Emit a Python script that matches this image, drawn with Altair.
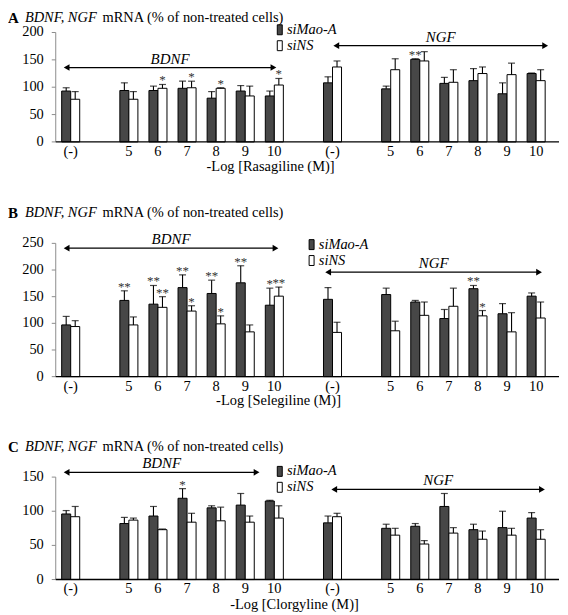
import altair as alt
import pandas as pd

# ---------------- data ----------------
concs = ["(-)", "5", "6", "7", "8", "9", "10"]
genes = ["BDNF", "NGF"]
series = ["siMao-A", "siNS"]

title_gene = "BDNF, NGF"
title_rest = "mRNA (% of non-treated cells)"

# Panel A: Rasagiline
a_letter = "A"
a_xtitle = "-Log [Rasagiline (M)]"
a_yticks = [0, 50, 100, 150, 200]
a_bdnf_mao = [93, 94, 94, 98, 80, 93, 84]
a_bdnf_mao_sd = [6, 14, 8, 13, 12, 10, 9]
a_bdnf_ns = [78, 78, 98, 99, 98, 84, 104]
a_bdnf_ns_sd = [14, 14, 7, 12, 1, 18, 12]
a_ngf_mao = [108, 97, 151, 107, 112, 88, 125]
a_ngf_mao_sd = [11, 5, 1, 11, 22, 20, 1]
a_ngf_ns = [137, 132, 148, 109, 125, 123, 112]
a_ngf_ns_sd = [11, 20, 17, 23, 12, 21, 20]
a_bdnf_mao_sig = ["", "", "", "", "", "", ""]
a_bdnf_ns_sig = ["", "", "*", "*", "*", "", "*"]
a_ngf_mao_sig = ["", "", "**", "", "", "", ""]
a_ngf_ns_sig = ["", "", "", "", "", "", ""]
a_arrow_level = [136, 176]
a_arrow_from = [-0.14, 9.13]
a_arrow_to = [6.97, 16.31]

# Panel B: Selegiline
b_letter = "B"
b_xtitle = "-Log [Selegiline (M)]"
b_yticks = [0, 50, 100, 150, 200, 250]
b_bdnf_mao = [97, 143, 136, 167, 156, 176, 134]
b_bdnf_mao_sd = [16, 18, 35, 24, 25, 32, 32]
b_bdnf_ns = [94, 97, 130, 123, 99, 84, 151]
b_bdnf_ns_sd = [11, 15, 20, 10, 15, 13, 17]
b_ngf_mao = [145, 154, 140, 109, 165, 118, 151]
b_ngf_mao_sd = [22, 12, 3, 17, 6, 19, 6]
b_ngf_ns = [83, 86, 115, 132, 114, 84, 110]
b_ngf_ns_sd = [19, 18, 25, 34, 10, 36, 30]
b_bdnf_mao_sig = ["", "**", "**", "**", "**", "**", "*"]
b_bdnf_ns_sig = ["", "", "**", "*", "*", "", "**"]
b_ngf_mao_sig = ["", "", "", "", "**", "", ""]
b_ngf_ns_sig = ["", "", "", "", "*", "", ""]
b_arrow_level = [241, 196]
b_arrow_from = [-0.14, 8.85]
b_arrow_to = [7.04, 16.1]

# Panel C: Clorgyline
c_letter = "C"
c_xtitle = "-Log [Clorgyline (M)]"
c_yticks = [0, 50, 100, 150]
c_bdnf_mao = [96, 82, 93, 119, 105, 109, 115]
c_bdnf_mao_sd = [5, 9, 14, 14, 3, 17, 1]
c_bdnf_ns = [92, 87, 73, 84, 86, 84, 90]
c_bdnf_ns_sd = [15, 3, 1, 13, 20, 9, 18]
c_ngf_mao = [83, 75, 78, 107, 73, 76, 90]
c_ngf_mao_sd = [10, 6, 4, 19, 8, 24, 8]
c_ngf_ns = [92, 65, 52, 68, 59, 65, 59]
c_ngf_ns_sd = [5, 10, 5, 8, 12, 10, 14]
c_bdnf_mao_sig = ["", "", "", "*", "", "", ""]
c_bdnf_ns_sig = ["", "", "", "", "", "", ""]
c_ngf_mao_sig = ["", "", "", "", "", "", ""]
c_ngf_ns_sig = ["", "", "", "", "", "", ""]
c_arrow_level = [157, 132]
c_arrow_from = [-0.14, 9.06]
c_arrow_to = [6.39, 16.2]

# ---------------- layout helpers ----------------
FONT = "Liberation Serif"
W = 506
BAR = 0.31  # bar width in slot units
AXIS_GRAY = "#8c8c8c"

# slot position of every (gene, concentration) pair: a blank slot follows "(-)"
# and separates the two genes
slot_pos = {}
n_slots = 0
for gi, g in enumerate(genes):
    if gi > 0:
        n_slots += 1
    for ci, c in enumerate(concs):
        slot_pos[(g, c)] = n_slots
        n_slots += 1
        if ci == 0:
            n_slots += 1
tick_df = pd.DataFrame({"pos": list(slot_pos.values()),
                        "label": [c for (g, c) in slot_pos.keys()]})

xscale = alt.Scale(domain=[-0.514, 16.786], nice=False, zero=False)
fill_scale = alt.Scale(domain=series, range=["#474747", "white"])


def make_df(bm, bms, bn, bns, nm, nms, nn, nns, sbm, sbn, snm, snn):
    rows = []
    table = [
        ("BDNF", "siMao-A", bm, bms, sbm),
        ("BDNF", "siNS", bn, bns, sbn),
        ("NGF", "siMao-A", nm, nms, snm),
        ("NGF", "siNS", nn, nns, snn),
    ]
    for gene, s, means, sds, sigs in table:
        k = series.index(s)
        for c, m, sd, sg in zip(concs, means, sds, sigs):
            p = slot_pos[(gene, c)]
            rows.append({"pos": p, "k": k, "series": s, "mean": m,
                         "top": m + sd, "sig": sg})
    return pd.DataFrame(rows)


def panel(letter, xtitle, df, yticks, height, levels, x0, x1,
          legend_x, legend_y, title_y, xtitle_x, xtitle_y):
    ymax = yticks[-1]
    yscale = alt.Scale(domain=[0, ymax], nice=False, zero=True)
    base = alt.Chart(df).transform_calculate(
        b0="datum.pos + (datum.k - 1) * %f" % BAR,
        b1="datum.pos + datum.k * %f" % BAR,
        bc="datum.pos + (datum.k - 0.5) * %f" % BAR,
    )
    Yn = alt.Y("mean:Q", scale=yscale, axis=None)

    # axes (drawn with marks on the panel's own scales)
    ydf = pd.DataFrame({"v": yticks})
    ybase = alt.Chart(ydf)
    yline = alt.Chart(pd.DataFrame({"lo": [0], "hi": [ymax]})).mark_rule(
        color=AXIS_GRAY, strokeWidth=1).encode(
        x=alt.value(0), y=alt.Y("lo:Q", scale=yscale, axis=None), y2="hi:Q")
    ytick = ybase.mark_rule(color=AXIS_GRAY, strokeWidth=1).encode(
        x=alt.value(-4), x2=alt.value(0),
        y=alt.Y("v:Q", scale=yscale, axis=None))
    ylab = ybase.mark_text(font=FONT, fontSize=14.5, color="black",
                           align="right", baseline="middle").encode(
        x=alt.value(-12), y=alt.Y("v:Q", scale=yscale, axis=None), text="v:Q")
    xline = alt.Chart(pd.DataFrame({"z": [0]})).mark_rule(
        color="black", strokeWidth=1.4).encode(
        x=alt.value(0), x2=alt.value(W), y=alt.Y("z:Q", scale=yscale, axis=None))
    xlab = alt.Chart(tick_df).mark_text(
        font=FONT, fontSize=14.5, color="black", baseline="middle").encode(
        x=alt.X("pos:Q", scale=xscale, axis=None),
        y=alt.value(height + 10), text="label:N")
    xt = alt.Chart(pd.DataFrame({"t": [xtitle]})).mark_text(
        font=FONT, fontSize=14.5, color="black", baseline="middle",
        align="center").encode(
        x=alt.value(xtitle_x), y=alt.value(height + xtitle_y), text="t:N")

    bars = base.mark_bar(stroke="black", strokeWidth=1).encode(
        x=alt.X("b0:Q", scale=xscale, axis=None),
        x2="b1:Q",
        y=alt.Y("mean:Q", scale=yscale, axis=None),
        y2=alt.datum(0),
        fill=alt.Fill("series:N", scale=fill_scale, legend=alt.Legend(
            title=None, orient="none", legendX=legend_x, legendY=legend_y,
            direction="vertical",
            symbolType="M-0.5,-1H0.5V1H-0.5Z", symbolSize=100,
            symbolStrokeColor="black", symbolStrokeWidth=1,
            labelFont=FONT, labelFontSize=14.5, labelFontStyle="italic",
            labelColor="black", labelOffset=0, rowPadding=0)),
    )
    err = base.mark_rule(color="black", strokeWidth=1.1).encode(
        x=alt.X("bc:Q", scale=xscale, axis=None),
        y=Yn, y2="top:Q")
    caps = base.mark_tick(color="black", size=7, thickness=1.2,
                          orient="horizontal").encode(
        x=alt.X("bc:Q", scale=xscale, axis=None),
        y=alt.Y("top:Q", scale=yscale, axis=None))
    stars = base.transform_filter("datum.sig != ''").mark_text(
        font=FONT, fontSize=13, color="#333333", baseline="alphabetic", dy=0
    ).encode(x=alt.X("bc:Q", scale=xscale, axis=None),
             y=alt.Y("top:Q", scale=yscale, axis=None),
             text="sig:N")

    adf = pd.DataFrame({"gene": genes, "level": levels, "x0": x0, "x1": x1})
    abase = alt.Chart(adf).transform_calculate(mid="(datum.x0 + datum.x1) / 2")
    Ya = alt.Y("level:Q", scale=yscale, axis=None)
    line = abase.mark_rule(color="black", strokeWidth=1.3).encode(
        x=alt.X("x0:Q", scale=xscale, axis=None), x2="x1:Q", y=Ya)
    head_l = abase.mark_point(shape="triangle-left", filled=True, size=45,
                              color="black", opacity=1).encode(
        x=alt.X("x0:Q", scale=xscale, axis=None), y=Ya)
    head_r = abase.mark_point(shape="triangle-right", filled=True, size=45,
                              color="black", opacity=1).encode(
        x=alt.X("x1:Q", scale=xscale, axis=None), y=Ya)
    lab = abase.mark_text(font=FONT, fontSize=15, fontStyle="italic",
                          color="black", baseline="middle", dy=-9).encode(
        x=alt.X("mid:Q", scale=xscale, axis=None), y=Ya, text="gene:N")

    t1 = alt.Chart(pd.DataFrame({"t": [letter]})).mark_text(
        font=FONT, fontSize=15, fontWeight="bold", align="left",
        baseline="middle", color="black").encode(
        x=alt.value(-48), y=alt.value(title_y), text="t:N")
    t2 = alt.Chart(pd.DataFrame({"t": [title_gene]})).mark_text(
        font=FONT, fontSize=14.5, fontStyle="italic", align="left",
        baseline="middle", color="black").encode(
        x=alt.value(-31), y=alt.value(title_y), text="t:N")
    t3 = alt.Chart(pd.DataFrame({"t": [title_rest]})).mark_text(
        font=FONT, fontSize=14.5, align="left",
        baseline="middle", color="black").encode(
        x=alt.value(47), y=alt.value(title_y), text="t:N")

    return alt.layer(bars, err, caps, stars, yline, ytick, ylab, xline, xlab,
                     xt, line, head_l, head_r, lab, t1, t2, t3).properties(
        width=W, height=height)


dfA = make_df(a_bdnf_mao, a_bdnf_mao_sd, a_bdnf_ns, a_bdnf_ns_sd,
              a_ngf_mao, a_ngf_mao_sd, a_ngf_ns, a_ngf_ns_sd,
              a_bdnf_mao_sig, a_bdnf_ns_sig, a_ngf_mao_sig, a_ngf_ns_sig)
dfB = make_df(b_bdnf_mao, b_bdnf_mao_sd, b_bdnf_ns, b_bdnf_ns_sd,
              b_ngf_mao, b_ngf_mao_sd, b_ngf_ns, b_ngf_ns_sd,
              b_bdnf_mao_sig, b_bdnf_ns_sig, b_ngf_mao_sig, b_ngf_ns_sig)
dfC = make_df(c_bdnf_mao, c_bdnf_mao_sd, c_bdnf_ns, c_bdnf_ns_sd,
              c_ngf_mao, c_ngf_mao_sd, c_ngf_ns, c_ngf_ns_sd,
              c_bdnf_mao_sig, c_bdnf_ns_sig, c_ngf_mao_sig, c_ngf_ns_sig)

pA = panel(a_letter, a_xtitle, dfA, a_yticks, 110, a_arrow_level, a_arrow_from,
           a_arrow_to, 218, -10, -15, 216, 25)
pB = panel(b_letter, b_xtitle, dfB, b_yticks, 134, b_arrow_level, b_arrow_from,
           b_arrow_to, 250, -6, -31, 224, 25)
pC = panel(c_letter, c_xtitle, dfC, c_yticks, 103, c_arrow_level, c_arrow_from,
           c_arrow_to, 218, -13, -30, 240, 26)

chart = alt.vconcat(pA, pB, pC, spacing=31).resolve_scale(
    x="independent", y="independent", fill="independent"
).properties(padding=0, background="white").configure_view(stroke=None)

chart.save("out.html", embed_options={"renderer": "svg", "actions": False})
